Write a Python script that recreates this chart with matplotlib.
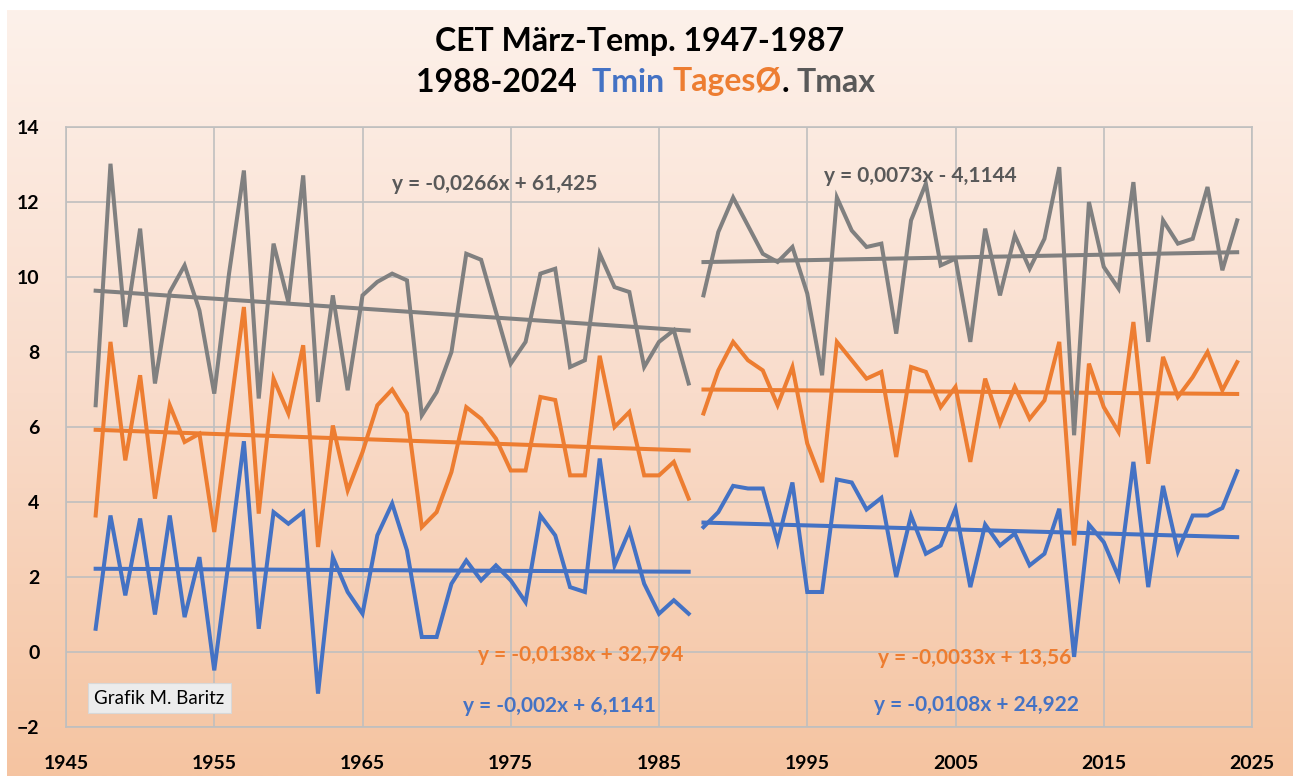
import numpy as np
import matplotlib
matplotlib.use("Agg")
import matplotlib.pyplot as plt
from matplotlib.colors import LinearSegmentedColormap

plt.rcParams['font.family'] = ['Lato', 'DejaVu Sans']

# CET March temperatures, two periods
years1 = list(range(1947, 1988))
years2 = list(range(1988, 2025))

tmax1 = [6.58, 13.02, 8.67, 11.29, 7.16, 9.6, 10.31, 9.11, 6.89, 10.1,
         12.84, 6.76, 10.89, 9.33, 12.71, 6.67, 9.51, 6.98, 9.51, 9.87,
         10.09, 9.91, 6.31, 6.93, 8.0, 10.62, 10.46, 9.07, 7.69, 8.27,
         10.09, 10.22, 7.6, 7.78, 10.62, 9.73, 9.6, 7.6, 8.27, 8.58, 7.16]
tmean1 = [3.64, 8.27, 5.11, 7.38, 4.09, 6.58, 5.6, 5.82, 3.2, 6.2,
          9.2, 3.69, 7.29, 6.36, 8.18, 2.8, 6.04, 4.31, 5.33, 6.58,
          7.0, 6.36, 3.33, 3.73, 4.8, 6.53, 6.22, 5.69, 4.84, 4.84,
          6.8, 6.72, 4.71, 4.71, 7.9, 6.0, 6.4, 4.71, 4.71, 5.07, 4.09]
tmin1 = [0.62, 3.64, 1.51, 3.56, 1.0, 3.64, 0.93, 2.53, -0.49, 2.5,
         5.62, 0.62, 3.73, 3.42, 3.73, -1.11, 2.53, 1.6, 1.02, 3.11,
         3.96, 2.71, 0.4, 0.4, 1.82, 2.44, 1.91, 2.31, 1.91, 1.33,
         3.64, 3.11, 1.73, 1.6, 5.16, 2.31, 3.24, 1.82, 1.02, 1.38, 1.02]

tmax2 = [9.51, 11.2, 12.12, 11.37, 10.62, 10.4, 10.8, 9.56, 7.38, 12.12,
         11.24, 10.8, 10.89, 8.49, 11.51, 12.49, 10.31, 10.49, 8.27, 11.29,
         9.51, 11.11, 10.22, 11.02, 12.93, 5.78, 12.0, 10.27, 9.69, 12.53,
         8.27, 11.51, 10.89, 11.02, 12.4, 10.18, 11.51]
tmean2 = [6.36, 7.51, 8.27, 7.78, 7.51, 6.58, 7.6, 5.56, 4.53, 8.27,
          7.78, 7.29, 7.47, 5.2, 7.6, 7.47, 6.53, 7.07, 5.07, 7.29,
          6.09, 7.07, 6.22, 6.71, 8.27, 2.84, 7.69, 6.53, 5.87, 8.8,
          5.02, 7.87, 6.8, 7.33, 8.0, 6.98, 7.73]
tmin2 = [3.33, 3.73, 4.43, 4.36, 4.36, 2.93, 4.52, 1.6, 1.6, 4.6,
         4.52, 3.8, 4.11, 2.0, 3.64, 2.62, 2.84, 3.82, 1.73, 3.4,
         2.84, 3.16, 2.31, 2.62, 3.82, -0.13, 3.4, 2.93, 2.0, 5.07,
         1.73, 4.43, 2.68, 3.64, 3.64, 3.84, 4.82]

# trend lines y = a*x + b, as printed in the chart
trend_a1 = [-0.002, -0.0138, -0.0266]
trend_b1 = [6.1141, 32.794, 61.425]
trend_a2 = [-0.0108, -0.0033, 0.0073]
trend_b2 = [24.922, 13.56, -4.1144]
eq_labels1 = ["y = -0,002x + 6,1141", "y = -0,0138x + 32,794", "y = -0,0266x + 61,425"]
eq_labels2 = ["y = -0,0108x + 24,922", "y = -0,0033x + 13,56", "y = 0,0073x - 4,1144"]

colors = ["#4472C4", "#ED7D31", "#808080"]
eq_colors = ["#4472C4", "#ED7D31", "#595959"]

fig = plt.figure(figsize=(12.93, 7.76), dpi=100)

# peach gradient background
bg = fig.add_axes([7 / 1293, 0, 1 - 7 / 1293, 1 - 10 / 776], zorder=-10)
cmap = LinearSegmentedColormap.from_list("peach", ["#fdf1ea", "#f9dccb", "#f5c4a1"])
grad = np.linspace(0, 1, 256).reshape(-1, 1)
bg.imshow(grad, aspect="auto", cmap=cmap, extent=[0, 1, 0, 1])
bg.axis("off")

ax = fig.add_axes([66 / 1293, 1 - 727 / 776, (1252 - 66) / 1293, 600 / 776])
ax.patch.set_alpha(0)

for i, (s1, s2) in enumerate([(tmin1, tmin2), (tmean1, tmean2), (tmax1, tmax2)]):
    ax.plot(years1, s1, color=colors[i], lw=2.9, solid_joinstyle="miter", zorder=3)
    ax.plot(years2, s2, color=colors[i], lw=2.9, solid_joinstyle="miter", zorder=3)
    x1 = np.array([years1[0], years1[-1]])
    x2 = np.array([years2[0], years2[-1]])
    ax.plot(x1, trend_a1[i] * x1 + trend_b1[i], color=colors[i], lw=2.9, zorder=3)
    ax.plot(x2, trend_a2[i] * x2 + trend_b2[i], color=colors[i], lw=2.9, zorder=3)

# equation labels
eq_pos1 = [(1978.3, -1.44), (1979.7, -0.08), (1973.9, 12.48)]
eq_pos2 = [(2006.4, -1.41), (2006.3, -0.16), (2002.6, 12.69)]
for i in range(3):
    ax.text(*eq_pos1[i], eq_labels1[i], color=eq_colors[i], fontsize=15,
            fontweight="bold", ha="center", va="center", zorder=4)
    ax.text(*eq_pos2[i], eq_labels2[i], color=eq_colors[i], fontsize=15,
            fontweight="bold", ha="center", va="center", zorder=4)

ax.text(1951.3, -1.23, "Grafik M. Baritz", fontsize=13.5, color="black",
        ha="center", va="center", zorder=5,
        bbox=dict(boxstyle="square,pad=0.35", fc="#ececec", ec="#d8d8d8", lw=0.8))

ax.set_xlim(1945, 2025)
ax.set_ylim(-2, 14)
ax.set_xticks(range(1945, 2026, 10))
ax.set_yticks(range(-2, 15, 2))
ax.grid(True, color="#bfbfbf", lw=1.2)
ax.set_axisbelow(True)
for sp in ax.spines.values():
    sp.set_color("#bfbfbf")
    sp.set_linewidth(1.2)
ax.tick_params(length=0, labelsize=14)
ax.tick_params(axis="x", pad=20)
ax.tick_params(axis="y", pad=19)
for lab in ax.get_xticklabels() + ax.get_yticklabels():
    lab.set_fontweight("bold")

# two-line title, second line in colours
fig.text(640 / 1293, 1 - 42 / 776, "CET März-Temp. 1947-1987", fontsize=23,
         fontweight="bold", ha="center", va="center")
parts = [("1988-2024  ", "black"), ("Tmin ", "#4472C4"), ("TagesØ", "#ED7D31"),
         (". ", "black"), ("Tmax", "#595959")]
fig.canvas.draw()
renderer = fig.canvas.get_renderer()
widths = []
objs = []
for txt, col in parts:
    t = fig.text(0, 1 - 82 / 776, txt, fontsize=23, fontweight="bold",
                 color=col, ha="left", va="center")
    objs.append(t)
    widths.append(t.get_window_extent(renderer).width)
total = sum(widths)
x0 = 646 - total / 2
for t, w in zip(objs, widths):
    t.set_x(x0 / 1293)
    x0 += w

fig.savefig("out.png", dpi=100)
